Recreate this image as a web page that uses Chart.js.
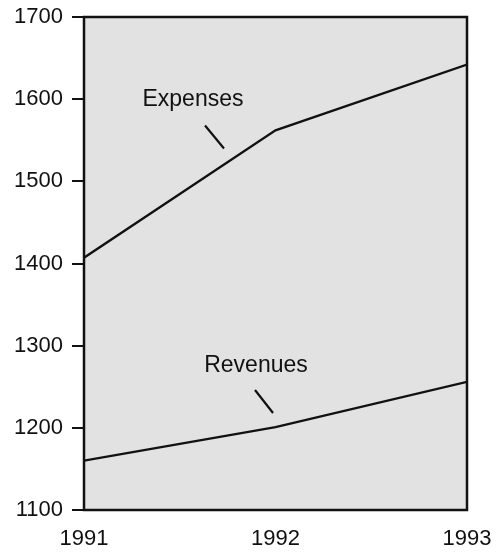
<!DOCTYPE html>
<html>
<head>
<meta charset="utf-8">
<script src="https://cdn.jsdelivr.net/npm/chart.js@4"></script>
<style>
  html, body { margin: 0; padding: 0; background: #fff; }
  #wrap { width: 498px; height: 552px; }
</style>
</head>
<body>
<div id="wrap"><canvas id="myChart" width="498" height="552"></canvas></div>
<script>
/******************* Expenses vs Revenues ***********************/
const years = [1991, 1992, 1993];
const expenses = [1407, 1562, 1642];
const revenues = [1160, 1201, 1256];
const Y_MIN = 1100;
const Y_MAX = 1700;

// callout labels: text position and leader line, in data units
const callouts = [
    {text: 'Expenses', at: [1991.569, 1599], from: [1991.632, 1568], to: [1991.731, 1540]},
    {text: 'Revenues', at: [1991.898, 1276], from: [1991.893, 1246], to: [1991.987, 1218]}
];

const FONT = {family: 'Liberation Sans, Arial, sans-serif', size: 22};

// gray plot background + frame + callouts
const panel = {
    id: 'panel',
    beforeDraw(chart) {
        const {ctx, chartArea: a} = chart;
        ctx.save();
        ctx.fillStyle = '#e2e2e2';
        ctx.fillRect(a.left, a.top, a.right - a.left, a.bottom - a.top);
        ctx.restore();
    },
    afterDraw(chart) {
        const {ctx, chartArea: a, scales: {x, y}} = chart;
        ctx.save();
        ctx.strokeStyle = '#111';
        ctx.lineWidth = 2.5;
        ctx.strokeRect(a.left, a.top, a.right - a.left, a.bottom - a.top);
        ctx.fillStyle = '#111';
        ctx.font = '23px ' + FONT.family;
        ctx.textAlign = 'center';
        ctx.textBaseline = 'middle';
        ctx.lineWidth = 2.2;
        callouts.forEach(c => {
            ctx.fillText(c.text, x.getPixelForValue(c.at[0]), y.getPixelForValue(c.at[1]));
            ctx.beginPath();
            ctx.moveTo(x.getPixelForValue(c.from[0]), y.getPixelForValue(c.from[1]));
            ctx.lineTo(x.getPixelForValue(c.to[0]), y.getPixelForValue(c.to[1]));
            ctx.stroke();
        });
        ctx.restore();
    }
};

const config = {
    type: 'line',
    data: {
        datasets: [
            {
                label: 'Expenses',
                data: years.map((yr, i) => ({x: yr, y: expenses[i]})),
                borderColor: '#111',
                borderWidth: 2.3,
                pointRadius: 0,
                tension: 0,
                fill: false
            },
            {
                label: 'Revenues',
                data: years.map((yr, i) => ({x: yr, y: revenues[i]})),
                borderColor: '#111',
                borderWidth: 2.3,
                pointRadius: 0,
                tension: 0,
                fill: false
            }
        ]
    },
    options: {
        responsive: false,
        animation: false,
        layout: {padding: {top: 17, right: 31, left: 0, bottom: 0}},
        plugins: {
            legend: {display: false},
            tooltip: {enabled: false}
        },
        scales: {
            x: {
                type: 'linear',
                min: 1991,
                max: 1993,
                afterFit: (s) => { s.height = 42; s.paddingLeft = 0; s.paddingRight = 0; },
                afterBuildTicks: (s) => { s.ticks = years.map(v => ({value: v})); },
                ticks: {
                    color: '#111',
                    font: FONT,
                    padding: 8,
                    maxRotation: 0,
                    callback: (v) => String(v)
                },
                grid: {display: false},
                border: {display: false}
            },
            y: {
                min: Y_MIN,
                max: Y_MAX,
                afterFit: (s) => { s.width = 84; s.paddingTop = 0; s.paddingBottom = 0; },
                ticks: {
                    stepSize: 100,
                    color: '#111',
                    font: FONT,
                    padding: 9,
                    callback: (v) => String(v)
                },
                grid: {
                    drawOnChartArea: false,
                    drawTicks: true,
                    tickLength: 12,
                    color: '#111',
                    lineWidth: 2
                },
                border: {display: false}
            }
        }
    },
    plugins: [panel]
};

const myChart = new Chart(document.getElementById('myChart'), config);
</script>
</body>
</html>
